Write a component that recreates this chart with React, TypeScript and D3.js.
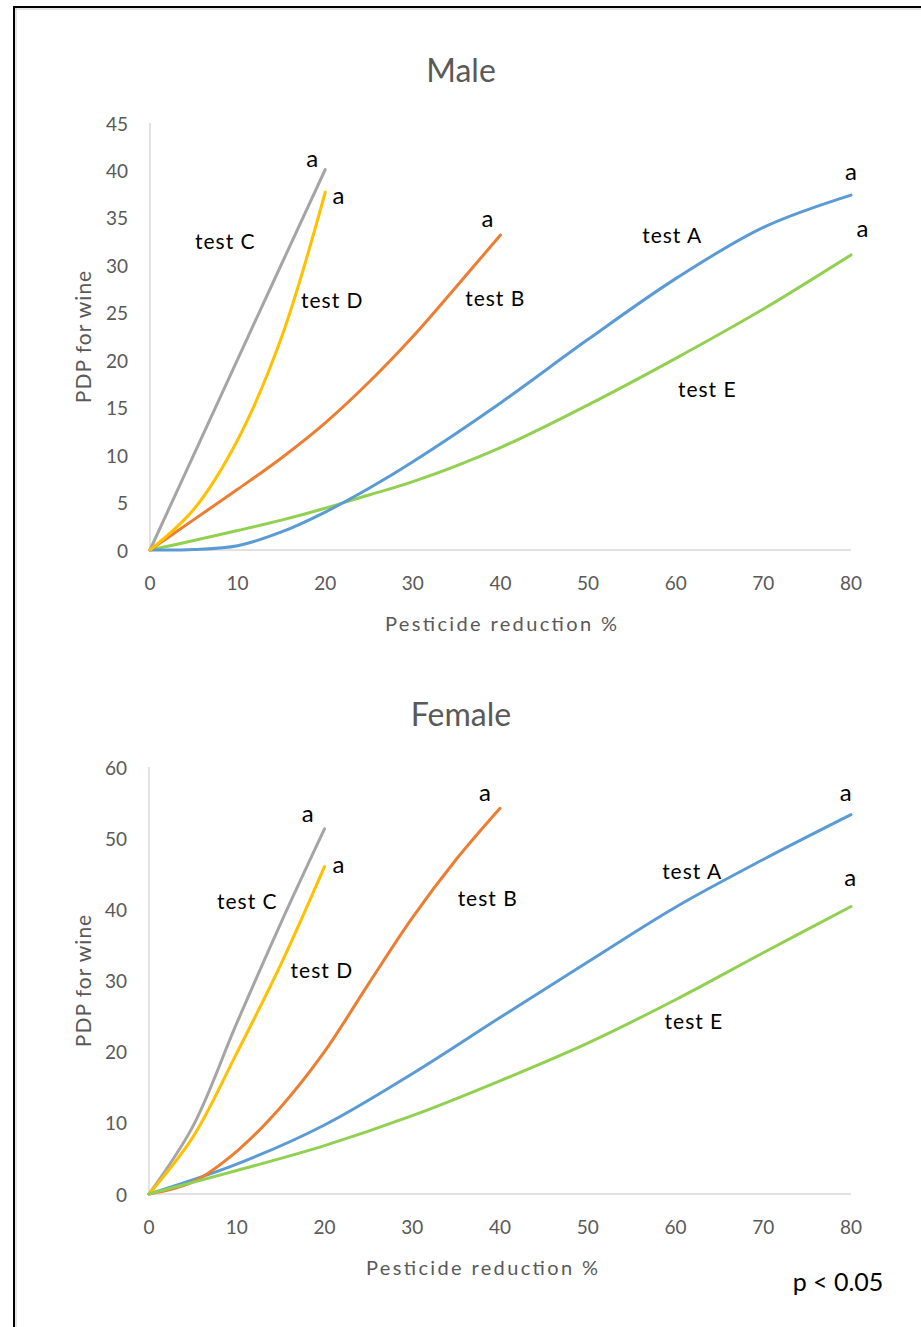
import React from "react";
import * as d3 from "d3";

// x values (pesticide reduction %)
const xShort = [0, 5, 10, 15, 20];
const xMaleC = [0, 10, 20];
const xMid = [0, 5, 10, 15, 20, 25, 30, 35, 40];
const xMaleLong = [0, 5, 10, 15, 20, 25, 30, 40, 50, 60, 70, 80];
const xFemaleLong = [0, 10, 20, 30, 40, 50, 60, 70, 80];

// Male PDP values
const maleA = [0, 0.05, 0.45, 1.9, 4.0, 6.5, 9.3, 15.5, 22.2, 28.6, 34.0, 37.4];
const maleB = [0, 3.2, 6.4, 9.7, 13.4, 17.7, 22.5, 27.8, 33.2];
const maleC = [0, 20.1, 40.1];
const maleD = [0, 4.3, 11.6, 22.4, 37.7];
const maleE = [0, 1.0, 2.05, 3.15, 4.4, 5.8, 7.2, 10.8, 15.3, 20.2, 25.4, 31.1];

// Female PDP values
const femaleA = [0, 4.2, 9.7, 16.9, 24.8, 32.6, 40.3, 47.0, 53.3];
const femaleB = [0, 1.7, 6.0, 12.2, 20.0, 29.5, 38.8, 47.0, 54.2];
const femaleC = [0, 9.5, 24.0, 38.0, 51.3];
const femaleD = [0, 8.0, 19.8, 32.2, 46.0];
const femaleE = [0, 3.3, 6.8, 11.0, 15.9, 21.2, 27.3, 33.9, 40.4];

const xTicks = [0, 10, 20, 30, 40, 50, 60, 70, 80];
const maleYTicks = [0, 5, 10, 15, 20, 25, 30, 35, 40, 45];
const femaleYTicks = [0, 10, 20, 30, 40, 50, 60];

// label anchors in data units [text, x, y]
const maleLabels: [string, number, number][] = [
  ["test C", 8.6, 32.6],
  ["test D", 20.8, 26.4],
  ["test B", 39.4, 26.6],
  ["test A", 59.6, 33.2],
  ["test E", 63.6, 17.0],
  ["a", 18.5, 41.4],
  ["a", 21.5, 37.5],
  ["a", 38.5, 35.0],
  ["a", 80.0, 40.0],
  ["a", 81.3, 34.0],
];
const femaleLabels: [string, number, number][] = [
  ["test C", 11.2, 41.2],
  ["test D", 19.7, 31.5],
  ["test B", 38.6, 41.6],
  ["test A", 61.9, 45.4],
  ["test E", 62.1, 24.4],
  ["a", 18.1, 53.6],
  ["a", 21.6, 46.4],
  ["a", 38.3, 56.6],
  ["a", 79.4, 56.5],
  ["a", 79.9, 44.6],
];

const colors = {
  A: "#5B9BD5",
  B: "#ED7D31",
  C: "#A5A5A5",
  D: "#FFC000",
  E: "#92D050",
};

const font = "Lato, 'Open Sans', sans-serif";
const tickColor = "#595959";

type Series = { xs: number[]; ys: number[]; color: string };

type PanelProps = {
  title: string;
  titleY: number;
  yMax: number;
  yTicks: number[];
  x0: number;
  x1: number;
  yBottom: number;
  yTop: number;
  xTitleX: number;
  series: Series[];
  labels: [string, number, number][];
};

const Panel = ({ title, titleY, yMax, yTicks, x0, x1, yBottom, yTop, xTitleX, series, labels }: PanelProps) => {
  const x = d3.scaleLinear().domain([0, 80]).range([x0, x1]);
  const y = d3.scaleLinear().domain([0, yMax]).range([yBottom, yTop]);
  const line = d3
    .line<[number, number]>()
    .x((d) => x(d[0]))
    .y((d) => y(d[1]))
    .curve(d3.curveCatmullRom.alpha(0.5));

  return (
    <g>
      <text x={461} y={titleY} textAnchor="middle" dominantBaseline="central" fontSize={32} fill={tickColor} fontFamily={font}>
        {title}
      </text>
      <line x1={x0} x2={x0} y1={yTop} y2={yBottom} stroke="#D9D9D9" strokeWidth={1.5} />
      <line x1={x0} x2={x1} y1={yBottom} y2={yBottom} stroke="#D9D9D9" strokeWidth={1.5} />
      {yTicks.map((t) => (
        <text key={"y" + t} x={x0 - 22} y={y(t)} textAnchor="end" dominantBaseline="central" fontSize={19} fill={tickColor} fontFamily={font}>
          {t}
        </text>
      ))}
      {xTicks.map((t) => (
        <text key={"x" + t} x={x(t)} y={yBottom + 32} textAnchor="middle" dominantBaseline="central" fontSize={19} fill={tickColor} fontFamily={font}>
          {t}
        </text>
      ))}
      <text
        x={xTitleX}
        y={yBottom + 73}
        textAnchor="middle"
        dominantBaseline="central"
        fontSize={20}
        fill={tickColor}
        fontFamily={font}
        textLength={232}
        lengthAdjust="spacing"
      >
        Pesticide reduction %
      </text>
      <text
        transform={`translate(82,${(yTop + yBottom) / 2}) rotate(-90)`}
        textAnchor="middle"
        dominantBaseline="central"
        fontSize={21}
        fill={tickColor}
        fontFamily={font}
        letterSpacing={1}
      >
        PDP for wine
      </text>
      {series.map((s, i) => (
        <path
          key={i}
          d={line(s.xs.map((v, j) => [v, s.ys[j]] as [number, number])) || ""}
          fill="none"
          stroke={s.color}
          strokeWidth={3}
          strokeLinecap="round"
        />
      ))}
      {labels.map(([t, lx, ly], i) => (
        <text
          key={"l" + i}
          x={x(lx)}
          y={y(ly)}
          textAnchor="middle"
          dominantBaseline="central"
          fontSize={t === "a" ? 24 : 21}
          fill="#000"
          fontFamily={font}
          letterSpacing={t === "a" ? 0 : 1}
        >
          {t}
        </text>
      ))}
    </g>
  );
};

export default function App() {
  const maleSeries: Series[] = [
    { xs: xMaleLong, ys: maleE, color: colors.E },
    { xs: xMaleLong, ys: maleA, color: colors.A },
    { xs: xMid, ys: maleB, color: colors.B },
    { xs: xMaleC, ys: maleC, color: colors.C },
    { xs: xShort, ys: maleD, color: colors.D },
  ];
  const femaleSeries: Series[] = [
    { xs: xFemaleLong, ys: femaleA, color: colors.A },
    { xs: xMid, ys: femaleB, color: colors.B },
    { xs: xShort, ys: femaleC, color: colors.C },
    { xs: xShort, ys: femaleD, color: colors.D },
    { xs: xFemaleLong, ys: femaleE, color: colors.E },
  ];

  return (
    <svg width={921} height={1327} style={{ position: "absolute", left: 0, top: 0, display: "block", background: "#fff" }}>
      <rect x={0} y={0} width={921} height={1327} fill="#fff" />
      <rect x={14} y={7} width={940} height={1360} fill="none" stroke="#000" strokeWidth={2} />
      <line x1={16} x2={16} y1={8} y2={1327} stroke="#ccc" strokeWidth={1} />
      <line x1={15} x2={921} y1={9} y2={9} stroke="#ccc" strokeWidth={1} />
      <Panel
        title="Male"
        titleY={69}
        yMax={45}
        yTicks={maleYTicks}
        x0={150}
        x1={851}
        yBottom={550}
        yTop={123}
        xTitleX={501}
        series={maleSeries}
        labels={maleLabels}
      />
      <Panel
        title="Female"
        titleY={713}
        yMax={60}
        yTicks={femaleYTicks}
        x0={149}
        x1={851}
        yBottom={1194}
        yTop={767}
        xTitleX={482}
        series={femaleSeries}
        labels={femaleLabels}
      />
      <text x={838} y={1281} textAnchor="middle" dominantBaseline="central" fontSize={25} fill="#000" fontFamily={font}>
        p &lt; 0.05
      </text>
    </svg>
  );
}
